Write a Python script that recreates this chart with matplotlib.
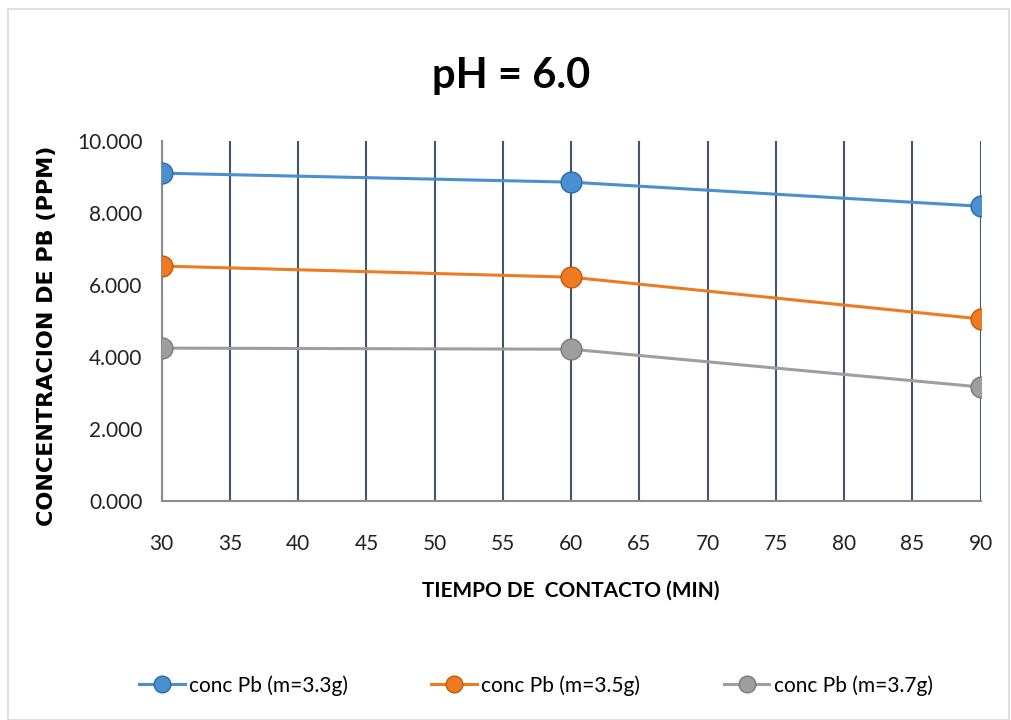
import matplotlib.pyplot as plt
from matplotlib.patches import Rectangle
from matplotlib.ticker import FuncFormatter

tiempo = [30, 60, 90]
conc_33 = [9.11, 8.86, 8.19]
conc_35 = [6.53, 6.22, 5.06]
conc_37 = [4.25, 4.22, 3.17]
series_labels = ["conc Pb (m=3.3g)", "conc Pb (m=3.5g)", "conc Pb (m=3.7g)"]
colors = ["#4A90D0", "#EE7A22", "#9E9E9E"]
edge_colors = ["#2A6CA8", "#C25A0E", "#7A7A7A"]

plt.rcParams['font.family'] = ['Lato', 'DejaVu Sans']

fig = plt.figure(figsize=(10.11, 7.2), dpi=100)
fig.patches.append(Rectangle((0.008, 0.0), 0.99, 0.988, transform=fig.transFigure,
                             fill=False, edgecolor="#D5D9DE", linewidth=1.2))
ax = fig.add_axes([0.160, 0.304, 0.810, 0.500])

for vals, lab, c, ec in zip([conc_33, conc_35, conc_37], series_labels, colors, edge_colors):
    ax.plot(tiempo, vals, color=c, linewidth=2.2, marker='o', markersize=15,
            markerfacecolor=c, markeredgecolor=ec, markeredgewidth=1, label=lab, zorder=3)

ax.set_xlim(30, 90)
ax.set_ylim(0, 10)
ax.set_xticks(range(30, 91, 5))
ax.set_yticks([0, 2, 4, 6, 8, 10])
ax.yaxis.set_major_formatter(FuncFormatter(lambda v, p: f"{v:.3f}"))
ax.grid(True, axis='x', color="#44546A", linewidth=1.5)
ax.set_axisbelow(True)
for s in ['top', 'right']:
    ax.spines[s].set_visible(False)
ax.spines['left'].set_color("#8C8C8C")
ax.spines['bottom'].set_color("#8C8C8C")
ax.spines['left'].set_linewidth(1.5)
ax.spines['bottom'].set_linewidth(1.5)
ax.tick_params(length=0, labelsize=15, colors="#222222")
ax.tick_params(axis='x', pad=24)
ax.tick_params(axis='y', pad=14)

fig.text(0.506, 0.895, "pH = 6.0", fontsize=30, fontweight='bold', ha='center', va='center')
ax.set_xlabel("TIEMPO DE  CONTACTO (MIN)", fontsize=15, fontweight='bold', labelpad=19)
ax.set_ylabel("CONCENTRACION DE PB (PPM)", fontsize=16, fontweight='bold',
              family=['DejaVu Sans'])
ax.yaxis.set_label_coords(-0.128, 0.46)

fig.legend(loc='center', bbox_to_anchor=(0.53, 0.048), ncol=3, frameon=False,
           fontsize=15, columnspacing=4.0, handlelength=2.2, handletextpad=0.2,
           markerscale=0.8)

fig.savefig("out.png", dpi=100)
